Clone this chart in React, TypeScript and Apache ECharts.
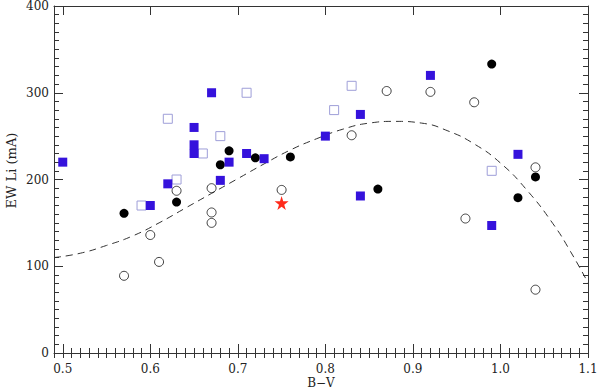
import React, { useEffect, useRef } from "react";
import * as echarts from "echarts";

// Filled blue squares
const bvFilledSq = [0.50, 0.60, 0.62, 0.65, 0.65, 0.65, 0.67, 0.68, 0.69, 0.71, 0.73, 0.80, 0.84, 0.84, 0.92, 0.99, 1.02];
const ewFilledSq = [220, 170, 195, 260, 240, 230, 300, 199, 220, 230, 224, 250, 275, 181, 320, 147, 229];
// Open light-blue squares
const bvOpenSq = [0.59, 0.63, 0.62, 0.66, 0.68, 0.71, 0.81, 0.83, 0.99];
const ewOpenSq = [170, 200, 270, 230, 250, 300, 280, 308, 210];
// Filled black circles
const bvFilledCirc = [0.57, 0.63, 0.68, 0.69, 0.72, 0.76, 0.86, 0.99, 1.02, 1.04];
const ewFilledCirc = [161, 174, 217, 233, 225, 226, 189, 333, 179, 203];
// Open circles
const bvOpenCirc = [0.57, 0.60, 0.61, 0.63, 0.67, 0.67, 0.67, 0.75, 0.83, 0.87, 0.92, 0.97, 0.96, 1.04, 1.04];
const ewOpenCirc = [89, 136, 105, 187, 190, 162, 150, 188, 251, 302, 301, 289, 155, 214, 73];
// Star
const bvStar = [0.75];
const ewStar = [173];
// Dashed curve
const bvCurve = [0.49, 0.52, 0.55, 0.58, 0.61, 0.64, 0.67, 0.70, 0.73, 0.76, 0.79, 0.82, 0.85, 0.88, 0.91, 0.94, 0.97, 1.00, 1.03, 1.06, 1.08, 1.10];
const ewCurve = [110, 115, 124, 135, 150, 167, 184, 201, 218, 234, 247, 258, 265, 267, 265, 256, 241, 219, 188, 149, 117, 81];

const xTickLabels = ["0.5", "0.6", "0.7", "0.8", "0.9", "1.0", "1.1"];

const zip = (a: number[], b: number[]) => a.map((v, i) => [v, b[i]]);

const FONT = "DejaVu Serif";
const AXIS_COLOR = "#333";
const TEXT_COLOR = "#222";

export default function App() {
  const ref = useRef<HTMLDivElement>(null);
  useEffect(() => {
    if (!ref.current) return;
    const chart = echarts.init(ref.current, undefined, { renderer: "svg" });
    const lineStyle = { color: AXIS_COLOR, width: 1 };
    const xMajorBase = {
      type: "value" as const,
      min: 0.49,
      max: 1.1,
      splitLine: { show: false },
      axisLine: { show: true, onZero: false, lineStyle },
      axisTick: { show: true, inside: true, length: 9, lineStyle },
      minorTick: { show: false },
    };
    const xMinorBase = {
      type: "value" as const,
      min: 0.49,
      max: 1.1,
      interval: 0.01,
      splitLine: { show: false },
      axisLine: { show: false },
      axisLabel: { show: false },
      axisTick: { show: true, inside: true, length: 5, lineStyle },
    };
    const yBase = {
      type: "value" as const,
      min: 0,
      max: 400,
      interval: 100,
      splitLine: { show: false },
      axisLine: { show: true, onZero: false, lineStyle },
      axisTick: { show: true, inside: true, length: 9, lineStyle },
      minorTick: { show: true, splitNumber: 10, length: 5, lineStyle },
    };
    chart.setOption({
      animation: false,
      backgroundColor: "#fff",
      grid: { left: 54, right: 12, top: 6, bottom: 38, containLabel: false, outerBoundsMode: "none" },
      xAxis: [
        {
          ...xMajorBase,
          position: "bottom",
          name: "B\u2212V",
          nameLocation: "middle",
          nameGap: 24,
          nameMoveOverlap: false,
          nameTextStyle: { fontFamily: FONT, fontSize: 12, lineHeight: 12, color: TEXT_COLOR },
          axisLabel: {
            show: true,
            showMinLabel: false,
            margin: 10,
            fontFamily: FONT,
            fontSize: 12,
            color: TEXT_COLOR,
            formatter: (v: number) => {
              const s = v.toFixed(1);
              return xTickLabels.includes(s) && Math.abs(v * 10 - Math.round(v * 10)) < 1e-6 ? s : "";
            },
          },
        },
        { ...xMinorBase, position: "bottom" },
        { ...xMajorBase, position: "top", axisLabel: { show: false } },
        { ...xMinorBase, position: "top" },
      ],
      yAxis: [
        {
          ...yBase,
          position: "left",
          name: "EW Li (mA)",
          nameLocation: "middle",
          nameGap: 36,
          nameMoveOverlap: false,
          nameTextStyle: { fontFamily: FONT, fontSize: 13, color: TEXT_COLOR, padding: [0, 0, 0, 18] },
          axisLabel: { show: true, margin: 5, fontFamily: FONT, fontSize: 12, color: TEXT_COLOR },
        },
        { ...yBase, position: "right", axisLabel: { show: false } },
      ],
      series: [
        {
          type: "line",
          data: zip(bvCurve, ewCurve),
          smooth: true,
          showSymbol: false,
          symbol: "none",
          lineStyle: { color: "#333", width: 1, type: [7, 5] },
          z: 1,
          silent: true,
        },
        {
          type: "scatter",
          data: zip(bvOpenCirc, ewOpenCirc),
          symbol: "circle",
          symbolSize: 9,
          itemStyle: { color: "transparent", borderColor: "#111", borderWidth: 0.8, opacity: 1 },
          z: 2,
        },
        {
          type: "scatter",
          data: zip(bvOpenSq, ewOpenSq),
          symbol: "rect",
          symbolSize: 9,
          itemStyle: { color: "transparent", borderColor: "#9e9ed8", borderWidth: 1, opacity: 1 },
          z: 2,
        },
        {
          type: "scatter",
          data: zip(bvFilledCirc, ewFilledCirc),
          symbol: "circle",
          symbolSize: 9,
          itemStyle: { color: "#000", opacity: 1 },
          z: 3,
        },
        {
          type: "scatter",
          data: zip(bvFilledSq, ewFilledSq),
          symbol: "rect",
          symbolSize: 9,
          itemStyle: { color: "#3512dc", opacity: 1 },
          z: 3,
        },
        {
          type: "scatter",
          data: zip(bvStar, ewStar),
          symbol: "path://M50,0 L61,35 L98,35 L68,57 L79,91 L50,70 L21,91 L32,57 L2,35 L39,35 Z",
          symbolSize: 14,
          itemStyle: { color: "#ff2a1a", opacity: 1 },
          z: 4,
        },
      ],
    });
    return () => chart.dispose();
  }, []);
  return (
    <div
      ref={ref}
      style={{ position: "absolute", left: 0, top: 0, width: 600, height: 391 }}
    />
  );
}
